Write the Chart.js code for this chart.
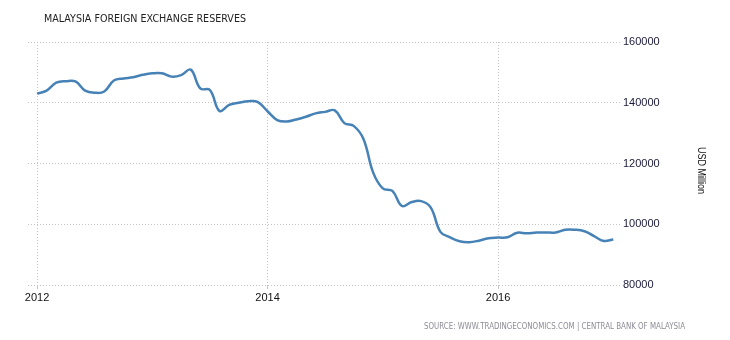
<!DOCTYPE html>
<html>
<head>
<meta charset="utf-8">
<title>Malaysia Foreign Exchange Reserves</title>
<script src="https://cdn.jsdelivr.net/npm/chart.js@4/dist/chart.umd.min.js"></script>
<style>
  html, body { margin: 0; padding: 0; background: #fff; }
  #wrap { width: 730px; height: 340px; position: relative; }
</style>
</head>
<body>
<div id="wrap"><canvas id="reservesChart"></canvas></div>
<script>
// Monthly reserves, USD million, Jan 2012 .. Jan 2017
const reserves = [
    143000, 144000, 146600, 147100, 147000, 144000, 143300, 143700, 147300, 148000, 148400, 149200,
    149700, 149700, 148600, 149100, 150900, 144700, 144200, 137300, 139300, 140000, 140500, 140200,
    137200, 134300, 133800, 134500, 135400, 136500, 137000, 137500, 133300, 132300, 128000, 117000,
    111800, 111000, 106000, 107300, 107600, 105500, 97500, 95700, 94400, 94100, 94600, 95400,
    95600, 95700, 97200, 97000, 97300, 97300, 97300, 98200, 98200, 97700, 96100, 94500,
    95000
];
const startYear = 2012;
const yearTicks = ['2012', '2014', '2016'];
const yTicks = [80000, 100000, 120000, 140000, 160000];

const points = reserves.map((v, i) => ({ x: i, y: v }));

// Helper: draw text squeezed to a fixed width
function fitText(ctx, text, x, y, width) {
    ctx.fillText(text, x, y, width);
}

const labelsPlugin = {
    id: 'labels',
    afterDraw(chart) {
        const ctx = chart.ctx;
        ctx.save();
        ctx.textBaseline = 'alphabetic';
        ctx.textAlign = 'left';

        // title
        ctx.fillStyle = '#222';
        ctx.font = '11px "DejaVu Sans"';
        fitText(ctx, 'MALAYSIA FOREIGN EXCHANGE RESERVES', 44, 22, 202);

        // source line
        ctx.fillStyle = '#8c8c96';
        ctx.font = '8.5px "DejaVu Sans"';
        fitText(ctx, 'SOURCE: WWW.TRADINGECONOMICS.COM | CENTRAL BANK OF MALAYSIA', 424, 329, 261);

        // unit label, rotated
        ctx.translate(698, 170.5);
        ctx.rotate(Math.PI / 2);
        ctx.textAlign = 'center';
        ctx.fillStyle = '#111';
        ctx.font = '10px "Liberation Sans"';
        ctx.fillText('USD Million', 0, 0, 47);
        ctx.restore();
    }
};

new Chart(document.getElementById('reservesChart'), {
    type: 'line',
    data: {
        datasets: [{
            label: 'Reserves',
            data: points,
            borderColor: '#4682b6',
            borderWidth: 2.5,
            pointRadius: 0,
            tension: 0.4,
            fill: false
        }]
    },
    options: {
        responsive: true,
        maintainAspectRatio: false,
        animation: false,
        layout: { padding: { left: 28, top: 42, right: 0, bottom: 0 } },
        plugins: {
            legend: { display: false },
            tooltip: { enabled: false }
        },
        scales: {
            x: {
                type: 'linear',
                min: -0.94,
                max: 60.7,
                afterBuildTicks: (scale) => {
                    scale.ticks = yearTicks.map((t, i) => ({ value: i * 24 }));
                },
                afterFit: (scale) => { scale.height = 55; },
                border: { display: false, dash: [1, 2] },
                grid: {
                    color: '#c4c4c4',
                    lineWidth: 1,
                    drawTicks: true,
                    tickLength: 4,
                    tickColor: '#c4c4c4'
                },
                ticks: {
                    padding: 2,
                    maxRotation: 0,
                    color: '#111',
                    font: { family: '"Liberation Sans"', size: 11 },
                    callback: (v) => yearTicks[Math.round(v / 24)] || String(startYear + v / 12)
                }
            },
            y: {
                position: 'right',
                min: 80000,
                max: 160000,
                afterBuildTicks: (scale) => {
                    scale.ticks = yTicks.map(v => ({ value: v }));
                },
                afterFit: (scale) => { scale.width = 110; },
                border: { display: false, dash: [1, 2] },
                grid: {
                    color: '#c4c4c4',
                    lineWidth: 1,
                    drawTicks: false
                },
                ticks: {
                    padding: 3,
                    color: '#1a1a3a',
                    font: { family: '"Liberation Sans"', size: 11 },
                    callback: (v) => String(v)
                }
            }
        }
    },
    plugins: [labelsPlugin]
});
</script>
</body>
</html>
